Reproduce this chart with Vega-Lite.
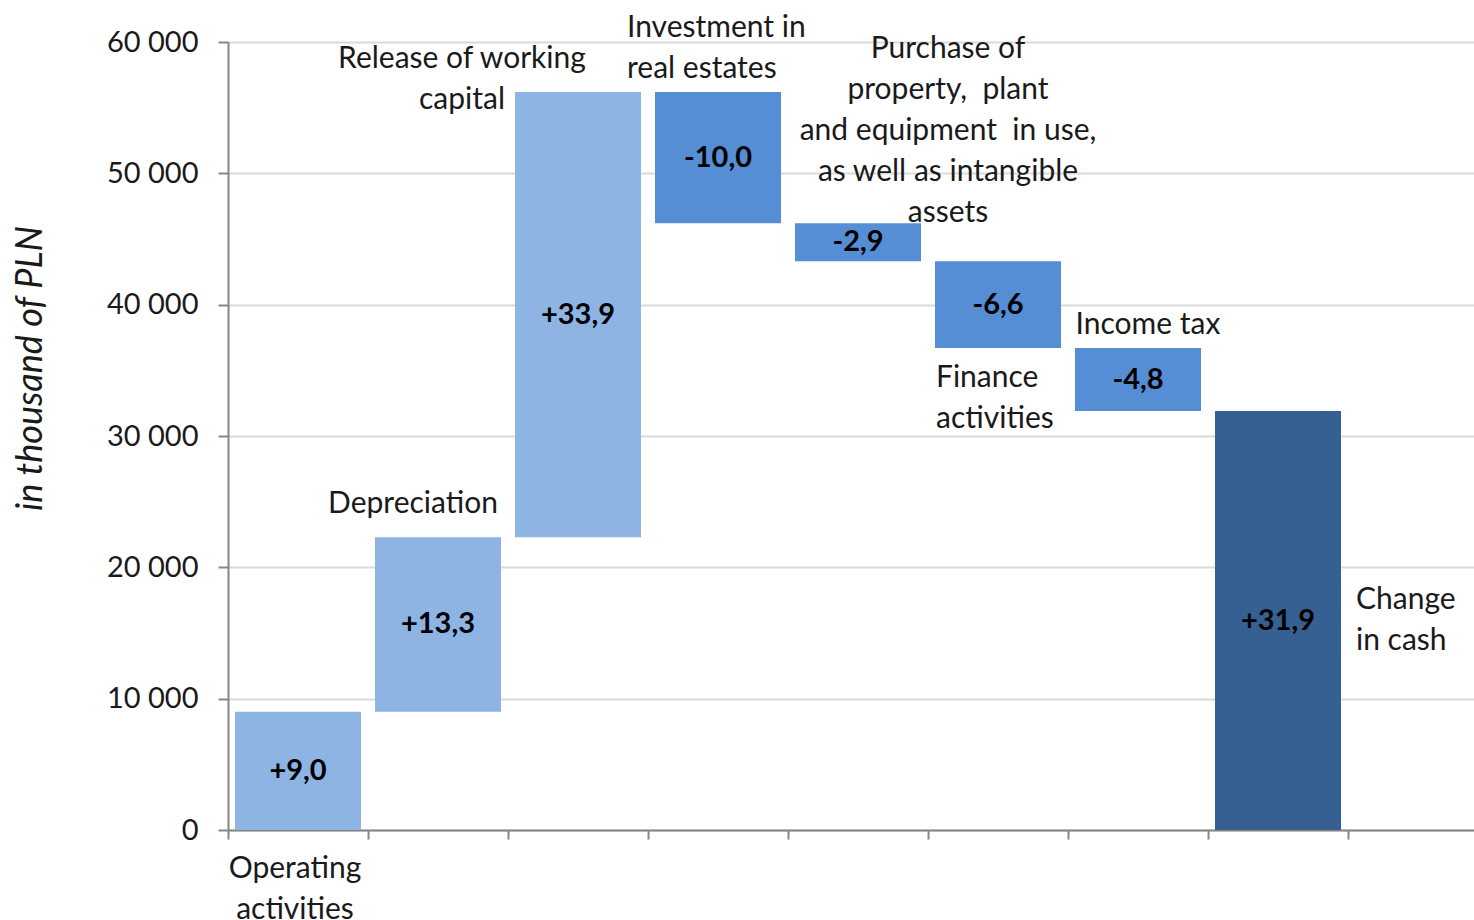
{
  "$schema": "https://vega.github.io/schema/vega-lite/v6.json",
  "width": 1246,
  "height": 788,
  "autosize": "none",
  "padding": {"left": 228, "top": 42, "right": 0, "bottom": 90},
  "background": "white",
  "config": {
    "view": {"stroke": null},
    "font": "Lato",
    "text": {"font": "Lato", "fontSize": 30, "color": "#1a1a1a", "lineHeight": 41}
  },
  "data": {
    "values": [
      {"cat": "Operating activities", "start": 0, "end": 9000, "kind": "inc", "vlabel": "+9,0", "name": "Operating\nactivities"},
      {"cat": "Depreciation", "start": 9000, "end": 22300, "kind": "inc", "vlabel": "+13,3", "name": "Depreciation"},
      {"cat": "Release of working capital", "start": 22300, "end": 56200, "kind": "inc", "vlabel": "+33,9", "name": "Release of working\ncapital"},
      {"cat": "Investment in real estates", "start": 56200, "end": 46200, "kind": "dec", "vlabel": "-10,0", "name": "Investment in\nreal estates"},
      {"cat": "Purchase of property, plant and equipment", "start": 46200, "end": 43300, "kind": "dec", "vlabel": "-2,9", "name": "Purchase of\nproperty,\u00a0 plant\nand equipment\u00a0 in use,\nas well as intangible\nassets"},
      {"cat": "Finance activities", "start": 43300, "end": 36700, "kind": "dec", "vlabel": "-6,6", "name": "Finance\nactivities"},
      {"cat": "Income tax", "start": 36700, "end": 31900, "kind": "dec", "vlabel": "-4,8", "name": "Income tax"},
      {"cat": "Change in cash", "start": 0, "end": 31900, "kind": "total", "vlabel": "+31,9", "name": "Change\nin cash"}
    ]
  },
  "encoding": {
    "x": {
      "field": "cat",
      "type": "nominal",
      "sort": null,
      "scale": {
        "domain": ["Operating activities", "Depreciation", "Release of working capital", "Investment in real estates", "Purchase of property, plant and equipment", "Finance activities", "Income tax", "Change in cash", ""],
        "range": [0, 1260],
        "paddingInner": 0,
        "paddingOuter": 0
      },
      "axis": {
        "title": null,
        "labels": false,
        "tickBand": "extent",
        "tickSize": 9,
        "tickWidth": 2,
        "tickColor": "#868686",
        "domainColor": "#868686",
        "domainWidth": 2,
        "grid": false
      }
    }
  },
  "layer": [
    {
      "mark": {"type": "bar", "clip": false, "width": {"band": 0.9}},
      "encoding": {
        "y": {
          "field": "start",
          "type": "quantitative",
          "scale": {"domain": [0, 60000], "nice": false},
          "axis": {
            "title": "in thousand of PLN",
            "titleFont": "Lato",
            "titleFontStyle": "italic",
            "titleFontWeight": "normal",
            "titleFontSize": 36,
            "titleColor": "#1a1a1a",
            "titleAngle": -90,
            "titleX": -198,
            "titleY": 326,
            "titleAlign": "center",
            "titleBaseline": "middle",
            "values": [0, 10000, 20000, 30000, 40000, 50000, 60000],
            "labelExpr": "replace(format(datum.value, ','), ',', ' ')",
            "labelFont": "Lato",
            "labelFontSize": 29,
            "labelColor": "#1a1a1a",
            "labelPadding": 20,
            "tickSize": 10,
            "tickWidth": 2,
            "tickColor": "#868686",
            "domainColor": "#868686",
            "domainWidth": 2,
            "grid": true,
            "gridColor": "#d9d9d9",
            "gridWidth": 2
          }
        },
        "y2": {"field": "end"},
        "color": {
          "field": "kind",
          "type": "nominal",
          "scale": {"domain": ["inc", "dec", "total"], "range": ["#8EB4E3", "#558ED5", "#376092"]},
          "legend": null
        }
      }
    },
    {
      "transform": [{"fold": ["start", "end"], "as": ["edge", "v"]}],
      "mark": {"type": "text", "fontWeight": "bold", "fontSize": 29, "baseline": "middle", "align": "center", "color": "#000000"},
      "encoding": {
        "y": {"field": "v", "type": "quantitative", "aggregate": "mean"},
        "text": {"field": "vlabel"}
      }
    },
    {
      "transform": [{"filter": "datum.cat == 'Operating activities'"}],
      "mark": {"type": "text", "align": "center", "baseline": "middle", "dx": -3, "dy": 39, "lineBreak": "\n"},
      "encoding": {"y": {"field": "start", "type": "quantitative"}, "text": {"field": "name"}}
    },
    {
      "transform": [{"filter": "datum.cat == 'Depreciation'"}],
      "mark": {"type": "text", "align": "center", "baseline": "middle", "dx": -25, "dy": -33, "lineBreak": "\n"},
      "encoding": {"y": {"field": "end", "type": "quantitative"}, "text": {"field": "name"}}
    },
    {
      "transform": [{"filter": "datum.cat == 'Release of working capital'"}],
      "mark": {"type": "text", "align": "center", "baseline": "middle", "dx": -116, "dy": -33, "lineBreak": "\n"},
      "encoding": {"y": {"field": "end", "type": "quantitative"}, "text": {"field": "name"}}
    },
    {
      "transform": [{"filter": "datum.cat == 'Investment in real estates'"}],
      "mark": {"type": "text", "align": "left", "baseline": "middle", "dx": -91, "dy": -64, "lineBreak": "\n"},
      "encoding": {"y": {"field": "start", "type": "quantitative"}, "text": {"field": "name"}}
    },
    {
      "transform": [{"filter": "datum.cat == 'Purchase of property, plant and equipment'"}],
      "mark": {"type": "text", "align": "center", "baseline": "middle", "dx": 90, "dy": -174, "lineBreak": "\n"},
      "encoding": {"y": {"field": "start", "type": "quantitative"}, "text": {"field": "name"}}
    },
    {
      "transform": [{"filter": "datum.cat == 'Finance activities'"}],
      "mark": {"type": "text", "align": "left", "baseline": "middle", "dx": -62, "dy": 30, "lineBreak": "\n"},
      "encoding": {"y": {"field": "end", "type": "quantitative"}, "text": {"field": "name"}}
    },
    {
      "transform": [{"filter": "datum.cat == 'Income tax'"}],
      "mark": {"type": "text", "align": "center", "baseline": "middle", "dx": 10, "dy": -23, "lineBreak": "\n"},
      "encoding": {"y": {"field": "start", "type": "quantitative"}, "text": {"field": "name"}}
    },
    {
      "transform": [{"filter": "datum.cat == 'Change in cash'"}],
      "mark": {"type": "text", "align": "left", "baseline": "middle", "dx": 78, "dy": 189, "lineBreak": "\n"},
      "encoding": {"y": {"field": "end", "type": "quantitative"}, "text": {"field": "name"}}
    }
  ]
}
